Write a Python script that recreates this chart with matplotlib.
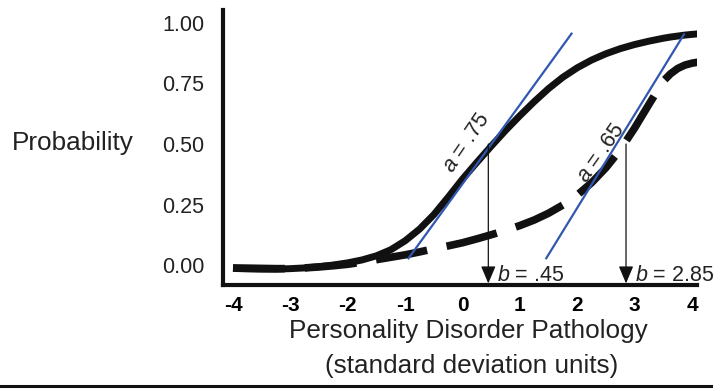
import numpy as np
import matplotlib
matplotlib.use('Agg')
import matplotlib.pyplot as plt
from matplotlib.lines import Line2D

plt.rcParams['font.family'] = ['Liberation Sans', 'DejaVu Sans']
plt.rcParams['mathtext.fontset'] = 'custom'
plt.rcParams['mathtext.it'] = 'Liberation Sans:italic'
plt.rcParams['mathtext.rm'] = 'Liberation Sans'

# values
theta = [-4.0, -3.75, -3.5, -3.25, -3.0, -2.75, -2.5, -2.25, -2.0, -1.75, -1.5,
         -1.25, -1.0, -0.75, -0.5, -0.25, 0.0, 0.25, 0.5, 0.75, 1.0, 1.25, 1.5,
         1.75, 2.0, 2.25, 2.5, 2.75, 3.0, 3.25, 3.5, 3.625, 3.75, 3.875, 4.0, 4.1]
p_solid = [-0.014, -0.016, -0.017, -0.017, -0.015, -0.012, -0.007, 0.0, 0.009,
           0.021, 0.038, 0.063, 0.100, 0.148, 0.208, 0.280, 0.355, 0.424, 0.491,
           0.556, 0.617, 0.675, 0.729, 0.776, 0.815, 0.847, 0.873, 0.894, 0.911,
           0.925, 0.937, 0.942, 0.946, 0.950, 0.953, 0.955]
p_dashed = [-0.012, -0.013, -0.014, -0.015, -0.015, -0.012, -0.008, -0.003, 0.003,
            0.012, 0.022, 0.032, 0.042, 0.054, 0.067, 0.079, 0.092, 0.108, 0.125,
            0.143, 0.163, 0.186, 0.214, 0.248, 0.289, 0.340, 0.402, 0.476, 0.566,
            0.664, 0.760, 0.790, 0.812, 0.826, 0.834, 0.838]

# slope lines (a) and thresholds (b)
tangent_x = [[-0.94, 1.9], [1.46, 3.86]]
tangent_y = [[0.028, 0.956], [0.028, 0.953]]
a_labels = ['$a$ = .75', '$a$ = .65']
a_pos = [(0.08, 0.505), (2.42, 0.462)]
a_rot = [56, 55]
b_values = [0.45, 2.85]
b_labels = ['$b$ = .45', '$b$ = 2.85']

xticks = [-4, -3, -2, -1, 0, 1, 2, 3, 4]
yticks = [0.0, 0.25, 0.5, 0.75, 1.0]
ytick_labels = ['0.00', '0.25', '0.50', '0.75', '1.00']

fig = plt.figure(figsize=(7.26, 3.91), dpi=100)
ax = fig.add_axes([223 / 726, 106 / 391, 474 / 726, 275 / 391])

ax.plot(theta, p_solid, color='#111111', lw=5, solid_capstyle='butt',
        solid_joinstyle='round', zorder=2)
ax.plot(theta, p_dashed, color='#111111', lw=5.5, linestyle=(0, (6.8, 2.6)),
        dash_capstyle='butt', dash_joinstyle='round', zorder=2)

for tx, ty in zip(tangent_x, tangent_y):
    ax.plot(tx, ty, color='#3058b0', lw=1.6, zorder=3)

for lab, pos, rot in zip(a_labels, a_pos, a_rot):
    ax.text(pos[0], pos[1], lab, rotation=rot, rotation_mode='anchor',
            ha='center', va='center', fontsize=15.5, color='#222222')

for b, lab in zip(b_values, b_labels):
    ax.annotate('', xy=(b, -0.076), xytext=(b, 0.5),
                arrowprops=dict(arrowstyle='-|>,head_length=0.85,head_width=0.36',
                                mutation_scale=12.5, lw=0.9, color='#111111',
                                shrinkA=0, shrinkB=0), zorder=4)
    ax.annotate(lab, xy=(b, -0.066), xytext=(6.5, 0), textcoords='offset points',
                ha='left', va='baseline', fontsize=15.5, color='#222222')

ax.set_xlim(-4.174, 4.087)
ax.set_ylim(-0.0826, 1.0537)
ax.set_xticks(xticks)
ax.set_xticklabels([str(t) for t in xticks], fontsize=15, fontweight='bold')
ax.set_yticks(yticks)
ax.set_yticklabels(ytick_labels, fontsize=15.5, color='#222222')
ax.tick_params(axis='both', length=0)
ax.tick_params(axis='x', pad=8)
ax.tick_params(axis='y', pad=13.5)

for side in ['top', 'right']:
    ax.spines[side].set_visible(False)
for side in ['left', 'bottom']:
    ax.spines[side].set_linewidth(3)
    ax.spines[side].set_color('#111111')

fig.text(12 / 726, 1 - 143 / 391, 'Probability', ha='left', va='center',
         fontsize=18.8, color='#222222')
fig.text(468 / 726, 1 - 338 / 391, 'Personality Disorder Pathology',
         ha='center', va='baseline', fontsize=18.8, color='#222222')
fig.text(472 / 726, 1 - 373 / 391, '(standard deviation units)',
         ha='center', va='baseline', fontsize=18.8, color='#222222')

fig.add_artist(Line2D([0, 711 / 726], [1 - 385.5 / 391] * 2, color='#111111', lw=2.2))

fig.savefig('out.png', dpi=100)
